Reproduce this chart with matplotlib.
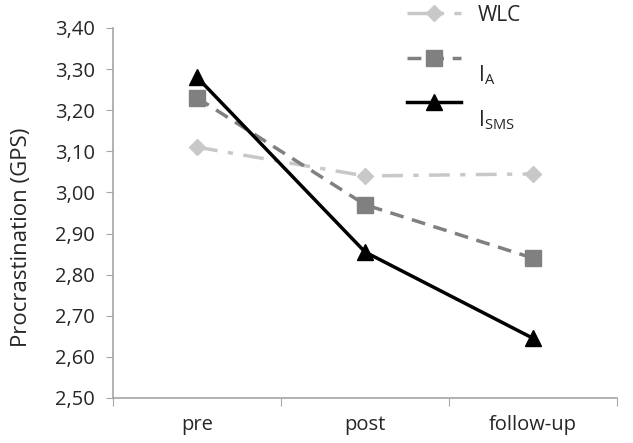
import matplotlib
matplotlib.use("Agg")
import matplotlib.pyplot as plt
from matplotlib.ticker import FuncFormatter, FixedLocator

# data
categories = ["pre", "post", "follow-up"]
wlc = [3.11, 3.04, 3.045]
i_a = [3.23, 2.97, 2.84]
i_sms = [3.28, 2.855, 2.645]
y_ticks = [2.50, 2.60, 2.70, 2.80, 2.90, 3.00, 3.10, 3.20, 3.30, 3.40]
legend_labels = ["WLC", r"$\mathregular{I_A}$", r"$\mathregular{I_{SMS}}$"]

plt.rcParams['font.family'] = ['Open Sans', 'DejaVu Sans']
plt.rcParams['font.size'] = 14
txt = '#262626'

fig = plt.figure(figsize=(6.33, 4.43), dpi=100)
ax = fig.add_axes([0.1785, 0.1016, 0.7965, 0.8354])

x = [1, 3, 5]
l1, = ax.plot(x, wlc, color='#c8c8c8', lw=2.5, ls=(0, (6, 3, 1.5, 3)),
              marker='D', ms=8, mec='#c8c8c8', mfc='#c8c8c8')
l2, = ax.plot(x, i_a, color='#808080', lw=2.5, ls=(0, (4, 2.5)),
              marker='s', ms=11, mec='#808080', mfc='#808080')
l3, = ax.plot(x, i_sms, color='black', lw=2.5, ls='-',
              marker='^', ms=11, mec='black', mfc='black')

ax.set_xlim(0, 6)
ax.set_ylim(2.50, 3.40)
ax.yaxis.set_major_locator(FixedLocator(y_ticks))
ax.yaxis.set_major_formatter(FuncFormatter(lambda v, p: ("%.2f" % v).replace(".", ",")))

ax.xaxis.set_major_locator(FixedLocator([0, 2, 4, 6]))
ax.xaxis.set_major_formatter(FuncFormatter(lambda v, p: ""))
ax.xaxis.set_minor_locator(FixedLocator(x))
ax.set_xticklabels(categories, minor=True)
ax.tick_params(axis='x', which='minor', length=0, pad=12, labelcolor=txt, labelsize=14.5)
ax.tick_params(axis='x', which='major', length=6, color='#a6a6a6', direction='out')
ax.tick_params(axis='y', length=5, color='#a6a6a6', direction='out', pad=8,
               labelcolor=txt, labelsize=14.5)

for s in ['top', 'right']:
    ax.spines[s].set_visible(False)
for s in ['left', 'bottom']:
    ax.spines[s].set_color('#a6a6a6')
    ax.spines[s].set_linewidth(1.2)

ax.set_ylabel("Procrastination (GPS)", color=txt, fontsize=16)
ax.yaxis.set_label_coords(-0.16, 0.435)

fig.legend([l1, l2, l3], ["", "", ""],
           loc='upper left', bbox_to_anchor=(0.643, 0.986), frameon=False,
           borderpad=0, borderaxespad=0,
           handlelength=2.8, labelspacing=1.35, handletextpad=0)

text_y = [0.966, 0.83, 0.728]
for lab, ty in zip(legend_labels, text_y):
    fig.text(0.755, ty, lab, color=txt, fontsize=15, va='center', ha='left')

fig.savefig("out.png", dpi=100)
